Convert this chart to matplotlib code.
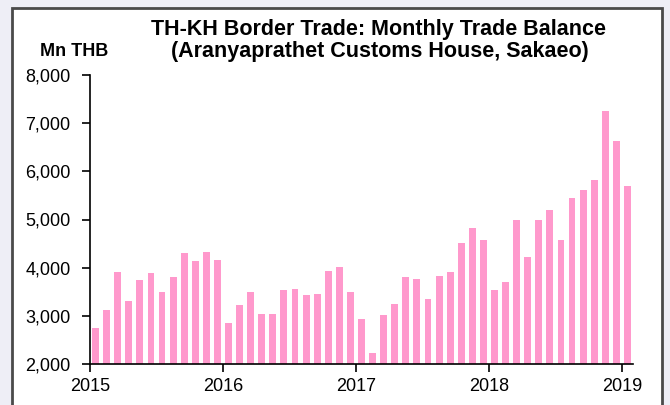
import matplotlib.pyplot as plt
import numpy as np
from matplotlib.patches import Rectangle

plt.rcParams['font.family'] = ['Liberation Sans', 'DejaVu Sans']

# monthly trade balance, Jan 2015 - Jan 2019 (Mn THB)
balance = [
    2750, 3130, 3900, 3310, 3740, 3880, 3490, 3810, 4310, 4130, 4330, 4150,
    2860, 3220, 3490, 3040, 3040, 3535, 3555, 3425, 3445, 3940, 4005, 3495,
    2930, 2220, 3010, 3240, 3805, 3755, 3355, 3825, 3920, 4505, 4825, 4575,
    3530, 3695, 4980, 4215, 4980, 5190, 4575, 5455, 5615, 5815, 7260, 6630,
    5700,
]
yearLabels = ["2015", "2016", "2017", "2018", "2019"]
yTicks = [2000, 3000, 4000, 5000, 6000, 7000, 8000]

W, H = 670, 405
fig = plt.figure(figsize=(6.7, 4.05), dpi=100, facecolor="#eeeef6")

# white panel with dark frame
fig.patches.append(Rectangle((12 / W, -0.05), (662 - 12) / W, (H - 8) / H + 0.05,
                             transform=fig.transFigure, facecolor="white",
                             edgecolor="#4a4a4a", linewidth=2, zorder=-10))

ax = fig.add_axes([90 / W, 41 / H, (633 - 90) / W, (364 - 75) / H])
ax.set_facecolor("none")

months = np.arange(len(balance)) + 0.5
ax.bar(months, balance, width=0.62, color="#ff99cc", bottom=0, zorder=2)

ax.set_xlim(0, len(balance))
ax.set_ylim(2000, 8000)
ax.set_xticks(np.arange(0, len(balance), 12))
ax.set_xticklabels(yearLabels)
ax.set_yticks(yTicks)
ax.set_yticklabels([f"{v:,}" for v in yTicks])

for side in ["top", "right"]:
    ax.spines[side].set_visible(False)
for side in ["left", "bottom"]:
    ax.spines[side].set_linewidth(1.2)
ax.tick_params(axis="both", direction="out", length=6, width=1.2,
               labelsize=13)
ax.tick_params(axis="y", pad=8)
ax.tick_params(axis="x", pad=4)

fig.text(378 / W, 1 - 30 / H, "TH-KH Border Trade: Monthly Trade Balance",
         ha="center", va="center", fontsize=15.5, fontweight="bold")
fig.text(380 / W, 1 - 52 / H, "(Aranyaprathet Customs House, Sakaeo)",
         ha="center", va="center", fontsize=15.5, fontweight="bold")
fig.text(74 / W, 1 - 51 / H, "Mn THB", ha="center", va="center",
         fontsize=13, fontweight="bold")

fig.savefig("out.png", dpi=100, facecolor=fig.get_facecolor())
